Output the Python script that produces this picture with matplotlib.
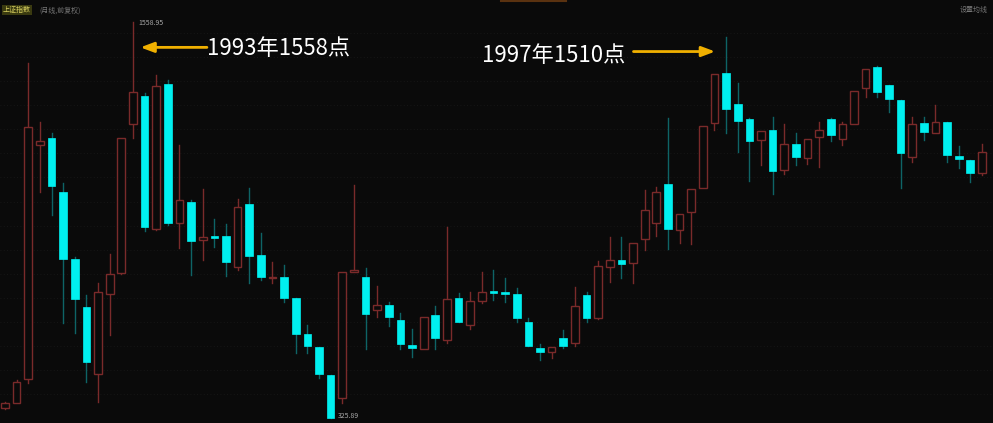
import matplotlib
matplotlib.use("Agg")
import matplotlib.pyplot as plt
from matplotlib.patches import Rectangle

plt.rcParams['font.family'] = ['Noto Sans CJK SC', 'DejaVu Sans']

opens = [357,373,447,1176,1198,1030,821,672,463,712,777,1241,1329,914,1366,933,998,880,893,893,
         796,992,833,762,765,700,587,547,460,388,781,765,662,678,631,553,541,647,569,700,
         615,690,721,718,712,625,544,531,575,559,709,637,796,818,808,883,933,1055,911,967,
         1042,1244,1400,1304,1257,1192,1223,1098,1179,1135,1201,1257,1195,1241,1353,1419,1363,1316,1139,1244,
         1213,1248,1142,1129,1089]
highs = [376,444,1431,1248,1213,1058,827,709,746,837,1198,1559,1338,1394,1378,1176,1005,1039,946,930,
         1008,1042,902,812,802,700,615,547,460,781,1051,793,737,687,653,603,640,675,921,715,
         718,781,787,762,731,637,556,547,600,734,718,815,889,889,871,1036,1045,1260,961,1039,
         1235,1397,1512,1369,1260,1220,1263,1241,1213,1195,1248,1260,1248,1344,1413,1422,1363,1316,1263,1263,
         1301,1248,1173,1129,1179]
lows = [354,373,435,1030,958,622,591,438,376,584,774,1198,908,911,927,855,771,818,858,768,
        787,746,756,746,687,528,528,450,326,373,781,541,640,612,541,516,541,541,559,625,
        603,684,693,687,625,550,507,513,544,550,625,634,749,762,746,849,893,852,871,868,
        1042,1223,1213,1154,1064,1114,1023,1086,1114,1117,1107,1188,1176,1241,1325,1325,1279,1042,1123,1192,
        1213,1123,1104,1061,1083]
closes = [373,438,1232,1188,1048,821,696,500,718,774,1198,1341,921,1360,933,1005,877,889,886,812,
          983,830,765,765,700,587,550,463,326,781,787,650,678,640,556,544,640,575,696,625,
          690,718,715,712,637,550,531,547,550,675,637,799,818,805,871,974,1030,914,961,1039,
          1235,1397,1288,1251,1188,1220,1095,1179,1139,1195,1223,1207,1241,1344,1413,1341,1319,1151,1241,1216,
          1248,1145,1132,1089,1154]

UP_EDGE = '#7a2a2a'
DOWN = '#00f0f0'
DOWN_WICK = '#0e6466'

fig = plt.figure(figsize=(9.93, 4.23), dpi=100)
fig.patch.set_facecolor('#0a0a0a')
ax = fig.add_axes([0, 0, 1, 1])
ax.set_facecolor('#0a0a0a')
ax.set_xlim(-0.43, 84.95)
ax.set_ylim(310.3, 1627.5)
ax.axis('off')

for yv in range(400, 1600, 75):
    ax.axhline(yv, color='#1a1a1a', lw=0.6, ls=(0, (1, 3)), zorder=0)

w = 0.66
for i, (o, h, l, c) in enumerate(zip(opens, highs, lows, closes)):
    if c >= o:
        ax.plot([i, i], [l, o], color=UP_EDGE, lw=1, zorder=1)
        ax.plot([i, i], [c, h], color=UP_EDGE, lw=1, zorder=1)
        ax.add_patch(Rectangle((i - w / 2, o), w, max(c - o, 2), facecolor='#0a0a0a',
                               edgecolor=UP_EDGE, lw=1, zorder=2))
    else:
        ax.plot([i, i], [l, h], color=DOWN_WICK, lw=1, zorder=1)
        ax.add_patch(Rectangle((i - w / 2, c), w, max(o - c, 3), facecolor=DOWN,
                               edgecolor=DOWN, lw=0.5, zorder=2))

# header
ax.text(0.003, 0.985, '上证指数', transform=ax.transAxes, fontsize=5, color='#d8d060',
        va='top', bbox=dict(facecolor='#3a3a10', edgecolor='none', pad=0.8))
ax.text(0.04, 0.985, '(月线,前复权)', transform=ax.transAxes, fontsize=5, color='#777777', va='top')
ax.text(0.995, 0.985, '设置均线', transform=ax.transAxes, fontsize=5, color='#777777', va='top', ha='right')
ax.plot([0.505, 0.57], [0.998, 0.998], transform=ax.transAxes, color='#5a3210', lw=1.5)

# extremes
ax.text(11.5, 1555, '1558.95', fontsize=5, color='#aaaaaa', va='center')
ax.text(28.6, 332, '325.89', fontsize=5, color='#aaaaaa', va='center')

# annotations
ax.annotate('', xy=(11.4, 1480), xytext=(17.6, 1480),
            arrowprops=dict(arrowstyle='-|>,head_width=0.3,head_length=0.8', color='#f0b000', lw=2))
ax.text(17.4, 1475, '1993年1558点', fontsize=16, color='white', va='center')
ax.annotate('', xy=(61.3, 1467), xytext=(53.8, 1467),
            arrowprops=dict(arrowstyle='-|>,head_width=0.3,head_length=0.8', color='#f0b000', lw=2))
ax.text(41.0, 1455, '1997年1510点', fontsize=16, color='white', va='center')

fig.savefig('out.png', dpi=100, facecolor=fig.get_facecolor())
